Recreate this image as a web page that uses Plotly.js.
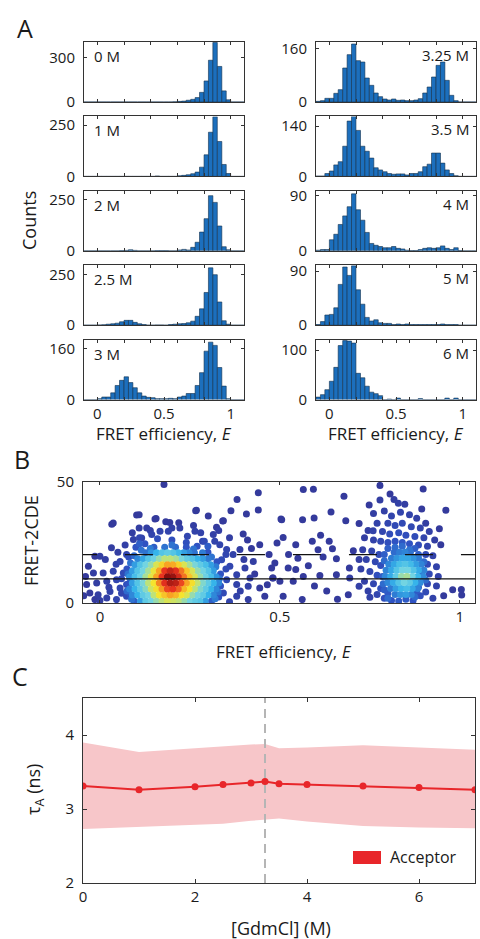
<!DOCTYPE html>
<html><head><meta charset="utf-8">
<script src="https://cdn.plot.ly/plotly-3.0.1.min.js"></script>
<style>html,body{margin:0;padding:0;background:#fff;}#chart{width:480px;height:939px;}</style>
</head><body><div id="chart"></div>
<script>
const W=480,H=939;
// ---------- Panel A data ----------
const binCenters=[-0.083,-0.05,-0.017,0.017,0.05,0.083,0.117,0.15,0.183,0.217,0.25,0.283,0.317,0.35,0.383,0.417,0.45,0.483,0.517,0.55,0.583,0.617,0.65,0.683,0.717,0.75,0.783,0.817,0.85,0.883,0.917,0.95,0.983,1.017,1.05,1.083];
const binWidth=0.0333;
const concLabels=['0 M','1 M','2 M','2.5 M','3 M','3.25 M','3.5 M','4 M','5 M','6 M'];
const counts0M  =[0,0,0,0,0,0,0,0,0,0,0,0,0,0,0,0,0,0,0,0,1,4,6,12,18,30,65,142,282,402,240,75,15,0,0,0];
const counts1M  =[0,0,0,0,0,0,0,0,0,0,0,0,0,0,0,0,2,0,0,0,0,3,5,8,13,21,45,105,215,290,170,58,14,0,0,0];
const counts2M  =[0,0,0,0,0,0,0,0,1,2,5,2,0,0,0,0,1,1,1,0,0,4,7,4,17,42,92,158,271,238,122,20,5,0,0,0];
const counts2p5M=[0,0,0,1,2,5,7,10,17,24,24,14,7,3,0,0,1,1,0,3,5,7,8,12,20,44,81,162,284,250,115,22,5,0,0,0];
const counts3M  =[0,0,0,3,8,8,21,44,60,71,53,37,21,11,7,6,3,3,3,4,3,8,11,19,19,44,84,151,179,169,100,42,3,0,0,0];
const counts3p25M=[2,4,11,11,26,37,102,142,174,124,120,72,50,27,16,9,6,9,5,6,4,4,6,10,27,45,75,110,120,65,20,4,0,0,0,0];
const counts3p5M=[1,1,8,15,32,41,84,154,167,128,84,70,51,24,18,13,8,6,7,7,4,8,8,13,27,34,65,65,37,18,8,2,0,0,0,0];
const counts4M  =[1,2,2,18,27,43,57,72,93,67,50,30,12,9,7,5,5,7,4,3,1,0.5,0.5,2,4,5,4,5,8,4,2,5,0.5,0,0,0];
const counts5M  =[1,6,17,18,29,68,97,83,99,59,35,13,7,9,4,3,3,1,2,1,2,1,1,1,1,1,1,1,2,1,1,1,0,0,0,0];
const counts6M  =[5,10,20,37,65,109,119,118,114,53,44,27,15,12,8,0,1,0,3,0,0,0,0,2,0,0,0,0,0,3,0,3,0,0,0,0];
const histCounts=[counts0M,counts1M,counts2M,counts2p5M,counts3M,counts3p25M,counts3p5M,counts4M,counts5M,counts6M];
const yTickLabel=[300,250,250,250,160,160,140,90,90,100];
const yMax=[405,292,295,297,187,180,167,98,100,121];
const eMajorTicks=[0,0.2,0.4,0.6,0.8,1];
const eLabelTicks=[0,0.5,1];

// ---------- Panel B data: [E, FRET-2CDE, density level] ----------
const cdeThresholds=[10,20];
const cdePoints=[
// sparse / halo (left)
[0.178,49,0],[0.102,36.4,0],[0.033,32.5,0],[0.153,34.7,0],[0.183,33.6,0],[0.219,33.2,0],[0.266,38.1,0],[0.301,36,0],[0.341,33.9,0],[0.324,31.3,0],[0.364,38.1,0],[0.381,42.8,0],[0.407,36.8,0],[0.44,38.4,0],[0.44,45.6,0],
[0.037,33.1,0],[0.109,36.5,0],[0.156,34.9,0],[0.194,33.3,0],[0.268,38.3,0],[0.343,34,0],
[0.109,31,0.02],[0.13,31,0.02],[0.093,26.2,0.03],[0.116,26.9,0.04],[0.144,28.3,0.05],[0.167,29.6,0.05],[0.19,29.6,0.05],[0.222,31,0.03],[0.243,27.6,0.06],[0.264,29.6,0.04],[0.285,25.5,0.06],[0.315,28.3,0.03],[0.319,25.5,0.05],[0.333,24.1,0.05],[0.352,22.1,0.05],[0.398,28.5,0],[0.389,22.1,0.02],[0.421,22.5,0],[0.444,24.1,0],
[0.032,22.8,0.02],[0,19.3,0.02],[-0.014,19.3,0],[-0.032,15.2,0],[-0.018,12.4,0.02],[0.009,12.4,0.03],[0.037,13.1,0.05],[0.056,17.2,0.05],[0.074,20,0.06],[0.065,12.4,0.08],[-0.037,7.6,0],[-0.009,8.3,0.02],[0.019,9,0.04],[0.046,9.6,0.06],[-0.028,4.1,0],[-0.005,3.4,0.02],[0.028,4.8,0.04],[0.056,6.2,0.06],[-0.014,1.4,0],[0.019,2.1,0.03],[0.046,1.4,0.05],[0.074,2.8,0.08],[0.074,7.6,0.1],[0.083,10.3,0.15],
[0.338,17.9,0.08],[0.361,15.2,0.06],[0.38,11.7,0.04],[0.403,14.5,0.03],[0.417,10.3,0.02],[0.426,17.2,0.02],[0.352,9.6,0.08],[0.38,7.6,0.04],[0.412,6.9,0.03],[0.444,6.2,0],[0.343,4.1,0.08],[0.38,2.8,0.04],[0.412,1.4,0.02],[0.458,2.8,0],[0.481,10.3,0],[0.477,14.5,0],
[0.075,14,0.12],[0.08,8,0.12],[0.085,3,0.12],[0.08,19,0.1],[0.1,23,0.12],[0.125,24.5,0.12],[0.27,23.5,0.12],[0.3,21,0.12],[0.325,17,0.12],[0.335,12,0.12],[0.335,7,0.12],[0.33,2.5,0.12],[0.095,0.8,0.15],[0.31,0.8,0.15],[0.06,10,0.08],[0.35,14,0.08],[0.35,20,0.06],[0.29,25.5,0.08],[0.11,27,0.06],[0.2,26,0.1],[0.24,25,0.1],[0.16,26.5,0.1],
[0.05,21,0.02],[0.07,24,0.03],[0.09,29,0.02],[0.14,30,0.03],[0.2,31,0.03],[0.26,32,0.02],[0.28,29,0.04],[0.36,27,0.02],[0.33,30,0.02],[0.37,20,0.04],[0.4,18,0.02],[0.39,5,0.03],[0.36,0.5,0.05],[0.06,4,0.06],[0.045,16,0.04],[0.015,18,0.02],[0,1,0.02],[-0.04,11,0],[-0.045,3,0],[0.025,6.5,0.03],[0.41,26,0],[0.43,12,0],
[0.085,16.5,0.2],[0.095,19.5,0.18],[0.115,21.8,0.2],[0.14,22.5,0.22],[0.2,24,0.2],[0.26,22.3,0.2],[0.285,20.8,0.22],[0.31,19,0.2],[0.322,15,0.22],[0.332,10,0.2],[0.328,4.5,0.2],[0.32,1.8,0.22],[0.078,12,0.2],[0.075,5,0.18],[0.088,1.5,0.2],[0.3,23.5,0.15],[0.11,24.5,0.15],
// sparse (middle / right)
[0.565,46.9,0],[0.593,47,0],[0.678,44.1,0],[0.778,48.6,0],[0.898,47.1,0],[0.806,45,0],[0.961,38.3,0],[0.642,37.6,0],[0.505,34.4,0],[0.563,34.4,0],[0.595,35.1,0],[0.683,34,0],[0.943,30.7,0],[0.947,24.1,0],[0.509,27.1,0],[0.492,24.8,0],[0.544,24.1,0],[0.59,25.5,0],[0.613,28,0],[0.637,25.5,0],[0.646,22.4,0],[0.606,22,0],[0.704,21.6,0],[0.657,18.3,0],[0.693,14.5,0],[0.486,16.5,0],[0.523,14.5,0],[0.544,13.8,0],[0.579,15.4,0],[0.611,11.4,0],[0.657,11.7,0],[0.565,11,0],[0.537,9,0],[0.5,9,0],[0.48,10.3,0],[0.694,10.3,0.02],[0.72,6.9,0.03],[0.69,3.4,0],[0.509,2.8,0],[0.562,1.4,0],[0.75,2.4,0.04],[0.98,5.5,0],[1.005,3.3,0],[1.004,5.6,0],[0.72,32.9,0],[0.503,34.7,0],[0.524,20,0],[0.47,20,0],[0.62,19,0],[0.55,18.5,0],[0.596,7,0],[0.63,5,0],[0.66,1.5,0],[0.465,7.5,0],[0.72,18,0.02],
// right cluster halo
[0.748,40.5,0],[0.778,42.6,0.02],[0.817,42.8,0.02],[0.829,41.2,0.03],[0.847,40.8,0.02],[0.894,38.8,0],[0.76,37,0.02],[0.79,38,0.03],[0.81,36,0.05],[0.835,37.5,0.05],[0.86,36.5,0.04],[0.88,35,0.03],[0.905,33,0.02],[0.77,33,0.04],[0.8,33,0.06],[0.82,32,0.08],[0.84,33,0.08],[0.865,31.5,0.07],[0.89,31,0.05],[0.915,29.5,0.03],[0.745,30,0.02],[0.759,29.9,0.04],[0.785,29.5,0.06],[0.805,28.5,0.09],[0.83,29,0.1],[0.85,28,0.1],[0.875,27.5,0.09],[0.9,27,0.05],[0.93,26,0.02],[0.735,27,0.02],[0.76,26,0.04],[0.78,25.5,0.07],[0.8,25,0.1],[0.82,25.5,0.12],[0.84,25,0.13],[0.86,24.5,0.12],[0.885,24,0.09],[0.91,23.5,0.05],
[0.73,22,0.03],[0.755,21.5,0.05],[0.775,20,0.08],[0.905,20,0.08],[0.925,19.5,0.04],[0.74,18,0.04],[0.765,17,0.07],[0.78,15.5,0.1],[0.91,16,0.08],[0.935,15,0.04],[0.725,14,0.03],[0.75,13,0.06],[0.77,11.5,0.1],[0.915,12,0.08],[0.94,11,0.04],[0.735,9,0.03],[0.76,8,0.06],[0.78,6,0.1],[0.91,8,0.08],[0.935,7,0.04],[0.745,5,0.03],[0.77,3.5,0.06],[0.79,2,0.1],[0.81,1,0.12],[0.83,0.8,0.14],[0.85,1.5,0.14],[0.87,1,0.12],[0.89,3,0.1],[0.905,4.5,0.08],[0.925,2,0.04],[0.955,3,0],[0.8,4,0.14],[0.88,5,0.14],
[0.79,20,0.15],[0.885,20,0.15],[0.785,11,0.15],[0.895,12,0.15],[0.79,5.5,0.15],[0.885,6.5,0.15],[0.8,22.5,0.15],[0.875,22.5,0.15],
[0.79,17.5,0.18],[0.9,17,0.18],[0.905,9.5,0.18],[0.787,8,0.18],[0.8,2,0.18],[0.875,2.5,0.18],[0.84,23.5,0.18],[0.86,22,0.2],[0.82,23,0.18],
// right cluster core
[0.82,3.5,0.22],[0.835,3.5,0.28],[0.85,3.5,0.3],[0.865,3.5,0.25],
[0.8075,6,0.22],[0.8225,6,0.3],[0.8375,6,0.36],[0.8525,6,0.38],[0.8675,6,0.32],[0.8825,6,0.24],
[0.8,8.5,0.25],[0.815,8.5,0.33],[0.83,8.5,0.4],[0.845,8.5,0.45],[0.86,8.5,0.42],[0.875,8.5,0.35],[0.89,8.5,0.26],
[0.7925,11,0.25],[0.8075,11,0.33],[0.8225,11,0.42],[0.8375,11,0.5],[0.8525,11,0.52],[0.8675,11,0.45],[0.8825,11,0.36],[0.8975,11,0.26],
[0.795,13.5,0.24],[0.81,13.5,0.32],[0.825,13.5,0.4],[0.84,13.5,0.45],[0.855,13.5,0.45],[0.87,13.5,0.4],[0.885,13.5,0.33],[0.9,13.5,0.24],
[0.8025,16,0.25],[0.8175,16,0.32],[0.8325,16,0.38],[0.8475,16,0.4],[0.8625,16,0.37],[0.8775,16,0.3],[0.8925,16,0.24],
[0.81,18.5,0.22],[0.825,18.5,0.28],[0.84,18.5,0.32],[0.855,18.5,0.32],[0.87,18.5,0.28],[0.885,18.5,0.22],
[0.8175,21,0.18],[0.8325,21,0.22],[0.8475,21,0.24],[0.8625,21,0.2],
// left cluster core
[0.15,23,0.15],[0.18,23,0.2],[0.21,23,0.18],[0.24,23,0.12],
[0.1275,20.8,0.2],[0.1425,20.8,0.28],[0.1575,20.8,0.35],[0.1725,20.8,0.4],[0.1875,20.8,0.42],[0.2025,20.8,0.4],[0.2175,20.8,0.36],[0.2325,20.8,0.3],[0.2475,20.8,0.25],[0.2625,20.8,0.2],
[0.105,18.3,0.25],[0.12,18.3,0.32],[0.135,18.3,0.4],[0.15,18.3,0.44],[0.165,18.3,0.5],[0.18,18.3,0.55],[0.195,18.3,0.55],[0.21,18.3,0.52],[0.225,18.3,0.46],[0.24,18.3,0.42],[0.255,18.3,0.4],[0.27,18.3,0.35],[0.285,18.3,0.3],[0.3,18.3,0.22],
[0.0975,15.8,0.3],[0.1125,15.8,0.4],[0.1275,15.8,0.45],[0.1425,15.8,0.5],[0.1575,15.8,0.6],[0.1725,15.8,0.68],[0.1875,15.8,0.75],[0.2025,15.8,0.74],[0.2175,15.8,0.68],[0.2325,15.8,0.6],[0.2475,15.8,0.52],[0.2625,15.8,0.46],[0.2775,15.8,0.42],[0.2925,15.8,0.38],[0.3075,15.8,0.3],
[0.09,13.3,0.3],[0.105,13.3,0.4],[0.12,13.3,0.45],[0.135,13.3,0.52],[0.15,13.3,0.63],[0.165,13.3,0.75],[0.18,13.3,0.87],[0.195,13.3,0.92],[0.21,13.3,0.88],[0.225,13.3,0.8],[0.24,13.3,0.7],[0.255,13.3,0.6],[0.27,13.3,0.5],[0.285,13.3,0.45],[0.3,13.3,0.4],[0.315,13.3,0.3],
[0.0825,10.8,0.28],[0.0975,10.8,0.38],[0.1125,10.8,0.44],[0.1275,10.8,0.52],[0.1425,10.8,0.62],[0.1575,10.8,0.75],[0.1725,10.8,0.87],[0.1875,10.8,1.0],[0.2025,10.8,0.98],[0.2175,10.8,0.9],[0.2325,10.8,0.8],[0.2475,10.8,0.7],[0.2625,10.8,0.6],[0.2775,10.8,0.5],[0.2925,10.8,0.44],[0.3075,10.8,0.38],[0.3225,10.8,0.28],
[0.09,8.3,0.3],[0.105,8.3,0.4],[0.12,8.3,0.46],[0.135,8.3,0.55],[0.15,8.3,0.65],[0.165,8.3,0.78],[0.18,8.3,0.88],[0.195,8.3,0.95],[0.21,8.3,0.93],[0.225,8.3,0.85],[0.24,8.3,0.75],[0.255,8.3,0.66],[0.27,8.3,0.56],[0.285,8.3,0.47],[0.3,8.3,0.42],[0.315,8.3,0.35],[0.33,8.3,0.25],
[0.0825,5.8,0.25],[0.0975,5.8,0.35],[0.1125,5.8,0.42],[0.1275,5.8,0.48],[0.1425,5.8,0.58],[0.1575,5.8,0.66],[0.1725,5.8,0.76],[0.1875,5.8,0.85],[0.2025,5.8,0.87],[0.2175,5.8,0.82],[0.2325,5.8,0.72],[0.2475,5.8,0.65],[0.2625,5.8,0.55],[0.2775,5.8,0.47],[0.2925,5.8,0.42],[0.3075,5.8,0.35],[0.3225,5.8,0.25],
[0.09,3.3,0.25],[0.105,3.3,0.35],[0.12,3.3,0.42],[0.135,3.3,0.45],[0.15,3.3,0.55],[0.165,3.3,0.65],[0.18,3.3,0.7],[0.195,3.3,0.75],[0.21,3.3,0.72],[0.225,3.3,0.65],[0.24,3.3,0.6],[0.255,3.3,0.5],[0.27,3.3,0.45],[0.285,3.3,0.42],[0.3,3.3,0.35],[0.315,3.3,0.25],
[0.1125,0.8,0.3],[0.1275,0.8,0.42],[0.1425,0.8,0.45],[0.1575,0.8,0.5],[0.1725,0.8,0.55],[0.1875,0.8,0.6],[0.2025,0.8,0.58],[0.2175,0.8,0.55],[0.2325,0.8,0.5],[0.2475,0.8,0.45],[0.2625,0.8,0.42],[0.2775,0.8,0.4],[0.2925,0.8,0.3]
];

// ---------- Panel C data ----------
const gdmcl=[0,1,2,2.5,3,3.25,3.5,4,5,6,7];
const tauA=[3.31,3.26,3.30,3.33,3.35,3.37,3.34,3.33,3.31,3.29,3.26];
const tauUpper=[3.90,3.77,3.82,3.85,3.87,3.88,3.82,3.83,3.86,3.83,3.80];
const tauLower=[2.73,2.76,2.78,2.80,2.84,2.86,2.87,2.83,2.77,2.75,2.74];
const midpointGdm=3.25;

// ---------- build ----------
const FONT='Open Sans, Lato, sans-serif';
const AX='#333333';
const fy=p=>1-p/H, fx=p=>p/W;
const traces=[];
const layout={width:W,height:H,margin:{l:0,r:0,t:0,b:0},paper_bgcolor:'#fff',plot_bgcolor:'rgba(0,0,0,0)',
  showlegend:false,bargap:0,font:{family:FONT,size:15,color:'#1a1a1a'},annotations:[],shapes:[]};

const rowTop=[42,116.4,190.8,265.2,339.6], rowH=60;
const colX=[[84,244],[316,476]];
function baseAx(extra){return Object.assign({showline:true,mirror:'ticks',linecolor:AX,linewidth:1,ticks:'inside',ticklen:3,tickcolor:AX,
  showgrid:false,zeroline:false,fixedrange:true,tickfont:{family:FONT,size:15,color:'#1a1a1a'}},extra);}

histCounts.forEach((cnt,k)=>{
  const col=k<5?0:1,row=k%5,n=k+1;
  const xs=n===1?'x':'x'+n, ys=n===1?'y':'y'+n;
  const xk=n===1?'xaxis':'xaxis'+n, yk=n===1?'yaxis':'yaxis'+n;
  traces.push({type:'bar',x:binCenters,y:cnt,width:binWidth,xaxis:xs,yaxis:ys,
    marker:{color:'#1c6fbd',line:{color:'#12304d',width:0.6}},hoverinfo:'skip'});
  const bottom=row===4;
  const xa={domain:[fx(colX[col][0]),fx(colX[col][1])],range:[-0.1,1.1],anchor:ys};
  if(bottom){
    xa.tickvals=eLabelTicks; xa.ticktext=eLabelTicks.map(String); xa.showticklabels=true;
    xa.minor={tickvals:[0.2,0.4,0.6,0.8],ticks:'inside',ticklen:3,tickcolor:AX,showgrid:false};
  } else {
    xa.tickvals=eMajorTicks; xa.showticklabels=false;
  }
  layout[xk]=baseAx(xa);
  layout[yk]=baseAx({domain:[fy(rowTop[row]+rowH),fy(rowTop[row])],range:[0,yMax[k]],anchor:xs,
    tickvals:[0,yTickLabel[k]],ticktext:['0',String(yTickLabel[k])],ticklabelstandoff:5});
  layout.annotations.push({text:concLabels[k],xref:'paper',yref:'paper',showarrow:false,
    x:col===0?fx(colX[0][0]+8):fx(colX[1][1]-5),xanchor:col===0?'left':'right',
    y:fy(rowTop[row]+(col===0?14:13)),yanchor:'middle',font:{family:FONT,size:15,color:'#1a1a1a'}});
});

// Panel B
const pts=cdePoints.slice().sort((a,b)=>a[2]-b[2]);
traces.push({type:'scatter',mode:'markers',x:pts.map(p=>p[0]),y:pts.map(p=>p[1]),xaxis:'x11',yaxis:'y11',
  marker:{size:7,color:pts.map(p=>p[2]),cmin:0,cmax:1,
  colorscale:[[0,'#343a9c'],[0.12,'#2f52c2'],[0.25,'#2f88d9'],[0.35,'#36b4ea'],[0.45,'#72d4e2'],[0.55,'#bde27a'],[0.65,'#f5e42e'],[0.75,'#f8a323'],[0.87,'#e8331f'],[1,'#8a0d0d']],
  line:{width:0}},hoverinfo:'skip',cliponaxis:true});
traces.push({type:'scatter',mode:'lines',x:[-0.047,1.042],y:[cdeThresholds[0],cdeThresholds[0]],xaxis:'x11',yaxis:'y11',
  line:{color:'#111',width:1.2},hoverinfo:'skip'});
traces.push({type:'scatter',mode:'lines',x:[-0.086,1.042],y:[cdeThresholds[1],cdeThresholds[1]],xaxis:'x11',yaxis:'y11',
  line:{color:'#111',width:1.2,dash:'28px,28px'},hoverinfo:'skip'});
layout.xaxis11=baseAx({domain:[fx(83),fx(475)],range:[-0.047,1.042],anchor:'y11',tickvals:[0,0.5,1],ticktext:['0','0.5','1']});
layout.yaxis11=baseAx({domain:[fy(603),fy(482)],range:[0,50],anchor:'x11',tickvals:[0,50],ticklabelstandoff:5});

// Panel C
traces.push({type:'scatter',mode:'lines',x:gdmcl,y:tauLower,xaxis:'x12',yaxis:'y12',line:{width:0,color:'rgba(0,0,0,0)'},hoverinfo:'skip'});
traces.push({type:'scatter',mode:'lines',x:gdmcl,y:tauUpper,xaxis:'x12',yaxis:'y12',fill:'tonexty',fillcolor:'#f7c6c9',line:{width:0,color:'rgba(0,0,0,0)'},hoverinfo:'skip'});
traces.push({type:'scatter',mode:'lines',x:[midpointGdm,midpointGdm],y:[2,4.5],xaxis:'x12',yaxis:'y12',line:{color:'#b5b5b5',width:2,dash:'9px,6px'},hoverinfo:'skip'});
traces.push({type:'scatter',mode:'lines+markers',x:gdmcl,y:tauA,xaxis:'x12',yaxis:'y12',name:'Acceptor',
  line:{color:'#e8262a',width:2},marker:{color:'#e8262a',size:7},hoverinfo:'skip',cliponaxis:true});
layout.xaxis12=baseAx({domain:[fx(83),fx(475)],range:[0,7],anchor:'y12',tickvals:[0,2,4,6],ticklen:4});
layout.yaxis12=baseAx({domain:[fy(883),fy(698)],range:[2,4.5],anchor:'x12',tickvals:[2,3,4],ticklen:4,ticklabelstandoff:5});
layout.shapes.push({type:'rect',xref:'paper',yref:'paper',x0:fx(353),x1:fx(381),y0:fy(864),y1:fy(851),fillcolor:'#e8262a',line:{width:0}});

// text
const ann=(t,x,y,size,opt)=>layout.annotations.push(Object.assign({text:t,xref:'paper',yref:'paper',x:fx(x),y:fy(y),
  showarrow:false,xanchor:'center',yanchor:'middle',font:{family:FONT,size:size,color:'#1a1a1a'}},opt||{}));
ann('A',25,28,25);
ann('B',22,459,25);
ann('C',20,676,25);
ann('Counts',29,221,18,{textangle:-90});
ann('FRET efficiency, <i>E</i>',164,433,17);
ann('FRET efficiency, <i>E</i>',396,433,17);
ann('FRET-2CDE',31,541,18,{textangle:-90});
ann('FRET efficiency, <i>E</i>',284,651,17);
ann('τ<sub>A</sub> (ns)',34,790,18,{textangle:-90});
ann('[GdmCl] (M)',281,928,18);
ann('Acceptor',388,857,16,{xanchor:'left'});

Plotly.newPlot('chart',traces,layout,{staticPlot:true,displayModeBar:false});
</script></body></html>
